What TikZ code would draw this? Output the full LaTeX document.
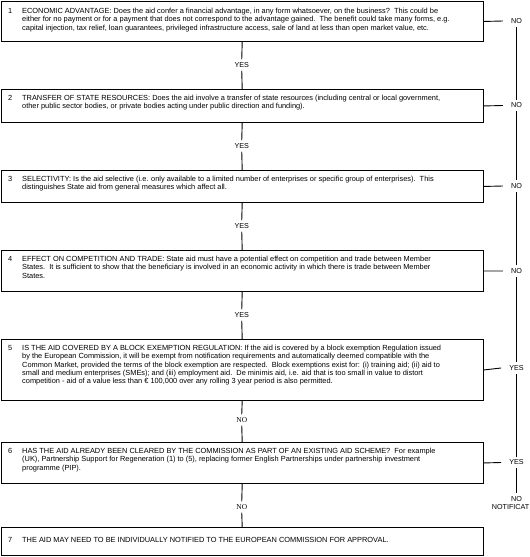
\documentclass[tikz,border=0pt]{standalone}
\usepackage{fontspec}
\setmainfont{Liberation Sans}
\newfontfamily\serifnofont{Liberation Serif}
\usetikzlibrary{calc}
\tikzset{
  qbox/.style={draw=black, line width=0.9pt, rectangle, inner sep=0pt, anchor=north west, minimum width=482.5pt},
  qtext/.style={inner sep=0pt, anchor=base west, font=\fontsize{7.4}{8.3}\selectfont},
  lab/.style={inner xsep=8pt, inner ysep=3pt, font=\fontsize{7.2}{8.3}\selectfont},
  slab/.style={inner xsep=4pt, inner ysep=3pt, font=\serifnofont\fontsize{7.4}{8.3}\selectfont},
  link/.style={draw=black, line width=0.9pt},
}
\newcommand{\qtab}[2]{\begin{tabular}[t]{@{}p{14pt}@{}l@{}}#1 & #2\end{tabular}}
\begin{document}
\begin{tikzpicture}[x=1pt,y=-1pt]
\fill[white] (0,0) rectangle (530,557);
\useasboundingbox (0,0) rectangle (530,557);
% boxes
\node[qbox, minimum height=40pt] (b1) at (0.5,1) {};
\node[qbox, minimum height=33pt] (b2) at (0.5,89) {};
\node[qbox, minimum height=32pt] (b3) at (0.5,170) {};
\node[qbox, minimum height=41pt] (b4) at (0.5,250) {};
\node[qbox, minimum height=61pt] (b5) at (0.5,339) {};
\node[qbox, minimum height=41pt] (b6) at (0.5,442) {};
\node[qbox, minimum height=28pt] (b7) at (0.5,527) {};
% texts
\node[qtext] (t1) at (8,13.5) {\qtab{1}{ECONOMIC ADVANTAGE: Does the aid confer a financial advantage, in any form whatsoever, on the business?\ \ This could be\\
 & either for no payment or for a payment that does not correspond to the advantage gained.\ \ The benefit could take many forms, e.g.\\
 & capital injection, tax relief, loan guarantees, privileged infrastructure access, sale of land at less than open market value, etc.}};
\node[qtext] (t2) at (8,100.5) {\qtab{2}{TRANSFER OF STATE RESOURCES: Does the aid involve a transfer of state resources (including central or local government,\\
 & other public sector bodies, or private bodies acting under public direction and funding).}};
\node[qtext] (t3) at (8,181.5) {\qtab{3}{SELECTIVITY: Is the aid selective (i.e. only available to a limited number of enterprises or specific group of enterprises).\ \ This\\
 & distinguishes State aid from general measures which affect all.}};
\node[qtext] (t4) at (8,261.5) {\qtab{4}{EFFECT ON COMPETITION AND TRADE: State aid must have a potential effect on competition and trade between Member\\
 & States.\ \ It is sufficient to show that the beneficiary is involved in an economic activity in which there is trade between Member\\
 & States.}};
\node[qtext] (t5) at (8,350.5) {\qtab{5}{IS THE AID COVERED BY A BLOCK EXEMPTION REGULATION: If the aid is covered by a block exemption Regulation issued\\
 & by the European Commission, it will be exempt from notification requirements and automatically deemed compatible with the\\
 & Common Market, provided the terms of the block exemption are respected.\ \ Block exemptions exist for: (i) training aid; (ii) aid to\\
 & small and medium enterprises (SMEs); and (iii) employment aid.\ \ De minimis aid, i.e. aid that is too small in value to distort\\
 & competition - aid of a value less than € 100,000 over any rolling 3 year period is also permitted.}};
\node[qtext] (t6) at (8,453.5) {\qtab{6}{HAS THE AID ALREADY BEEN CLEARED BY THE COMMISSION AS PART OF AN EXISTING AID SCHEME?\ \ For example\\
 & (UK), Partnership Support for Regeneration (1) to (5), replacing former English Partnerships under partnership investment\\
 & programme (PIP).}};
\node[qtext] (t7) at (8,542.5) {\qtab{7}{THE AID MAY NEED TO BE INDIVIDUALLY NOTIFIED TO THE EUROPEAN COMMISSION FOR APPROVAL.}};
% centre labels
\node[lab, inner xsep=3pt] (y1) at (241.75,65) {YES};
\node[lab, inner xsep=3pt] (y2) at (241.75,146) {YES};
\node[lab, inner xsep=3pt] (y3) at (241.75,226) {YES};
\node[lab, inner xsep=3pt] (y4) at (241.75,315) {YES};
\node[slab] (m5) at (241.75,420) {NO};
\node[slab] (m6) at (241.75,507) {NO};
% right labels
\node[lab] (r1) at (516.5,21) {NO};
\node[lab] (r2) at (516.5,105.5) {NO};
\node[lab] (r3) at (516.5,186) {NO};
\node[lab] (r4) at (516.5,271) {NO};
\node[lab] (r5) at (516.5,368) {YES};
\node[lab] (r6) at (516.5,462.5) {YES};
\node[lab] (r7) at (516.5,499) {NO};
\node[lab, inner xsep=0pt, anchor=east] (r8) at (529.5,507.5) {NOTIFICAT};
% centre connectors
\draw[link] (b1.south) -- (y1.north);
\draw[link] (y1.south) -- (b2.north);
\draw[link] (b2.south) -- (y2.north);
\draw[link] (y2.south) -- (b3.north);
\draw[link] (b3.south) -- (y3.north);
\draw[link] (y3.south) -- (b4.north);
\draw[link] (b4.south) -- (y4.north);
\draw[link] (y4.south) -- (b5.north);
\draw[link] (b5.south) -- (m5.north);
\draw[link] (m5.south) -- (b6.north);
\draw[link] (b6.south) -- (m6.north);
\draw[link] (m6.south) -- (b7.north);
% right connectors
\draw[link] (b1.east) -- (r1.west);
\draw[link] (b2.east) -- (r2.west);
\draw[link] (b3.east) -- (r3.west);
\draw[link] (b4.east) -- (r4.west);
\draw[link] (b5.east) -- (r5.west);
\draw[link] (b6.east) -- (r6.west);
\draw[link] (r1.south) -- (r2.north);
\draw[link] (r2.south) -- (r3.north);
\draw[link] (r3.south) -- (r4.north);
\draw[link] (r4.south) -- (r5.north);
\draw[link] (r5.south) -- (r6.north);
\draw[link] (r6.south) -- (r7.north);
\end{tikzpicture}
\end{document}
